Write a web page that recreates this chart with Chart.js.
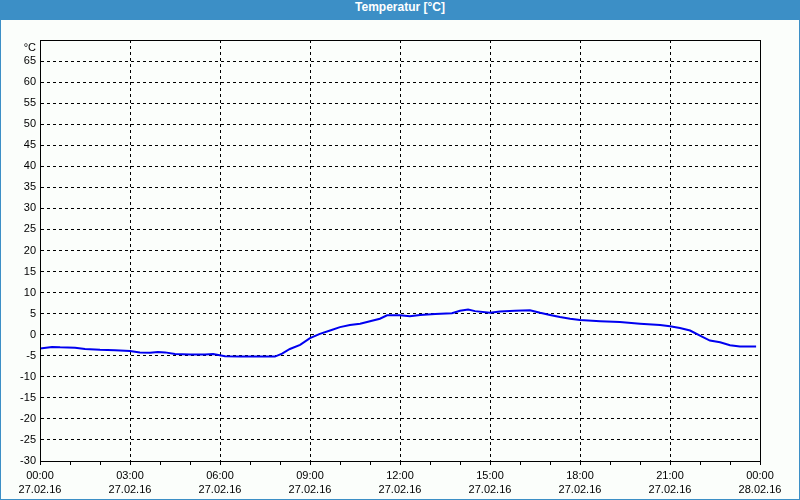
<!DOCTYPE html>
<html>
<head>
<meta charset="utf-8">
<script src="https://cdn.jsdelivr.net/npm/chart.js@4/dist/chart.umd.min.js"></script>
<style>
    body { margin: 0; }
    #wrap { position: relative; width: 800px; height: 500px; background: #3c8fc6; }
    #title { position: absolute; left: 0; top: 0; width: 800px; height: 20px; line-height: 20px;
             color: #fff; font: bold 12px 'Liberation Sans', sans-serif; text-align: center; }
    #box { position: absolute; left: 1px; top: 20px; width: 798px; height: 479px; background: #fbfefb; }
</style>
</head>
<body>
<div id="wrap">
    <div id="title">Temperatur [°C]</div>
    <div id="box"><canvas id="tempChart"></canvas></div>
</div>
<script>
// hours since 27.02.16 00:00
const hours = [0, 0.4, 0.67, 1.17, 1.5, 2, 2.5, 3, 3.33, 3.67, 3.93, 4.17, 4.5, 5, 5.5, 5.77,
    6.17, 6.67, 7.17, 7.83, 8.07, 8.33, 8.67, 9, 9.33, 9.67, 10, 10.33, 10.67, 11, 11.33, 11.57,
    12, 12.33, 12.67, 13.17, 13.73, 14, 14.27, 14.5, 15, 15.33, 15.83, 16.33, 16.67, 17, 17.33,
    17.67, 18, 18.67, 19.33, 20, 20.67, 21, 21.33, 21.67, 22, 22.33, 22.67, 23, 23.33, 23.87];
const temps = [-3.3, -2.9, -3.0, -3.1, -3.4, -3.6, -3.7, -3.9, -4.2, -4.3, -4.1, -4.2, -4.6, -4.7, -4.7, -4.6,
    -5.1, -5.2, -5.2, -5.2, -4.5, -3.4, -2.4, -0.8, 0.2, 1.0, 1.8, 2.3, 2.6, 3.2, 3.8, 4.6,
    4.6, 4.4, 4.7, 4.9, 5.1, 5.7, 6.0, 5.6, 5.2, 5.5, 5.7, 5.8, 5.2, 4.7, 4.2,
    3.8, 3.5, 3.2, 3.0, 2.6, 2.3, 2.0, 1.6, 1.0, -0.2, -1.4, -1.8, -2.5, -2.8, -2.8];
const timeLabels = ['00:00', '03:00', '06:00', '09:00', '12:00', '15:00', '18:00', '21:00', '00:00'];
const dateLabels = ['27.02.16', '27.02.16', '27.02.16', '27.02.16', '27.02.16', '27.02.16', '27.02.16', '27.02.16', '28.02.16'];

const tickFont = { family: "'Liberation Sans', sans-serif", size: 11, lineHeight: 1.36 };

// closes the plot box on top and right
const frame = {
    id: 'frame',
    afterDraw(chart) {
        const a = chart.chartArea, ctx = chart.ctx;
        const al = v => Math.round(v - 0.5) + 0.5;
        ctx.save();
        ctx.strokeStyle = '#000';
        ctx.lineWidth = 1;
        ctx.strokeRect(al(a.left), al(a.top), al(a.right) - al(a.left), al(a.bottom) - al(a.top));
        ctx.restore();
    }
};

const ctx = document.getElementById('tempChart').getContext('2d');
const chart = new Chart(ctx, {
    type: 'line',
    data: {
        datasets: [{
            label: 'Temperatur',
            data: hours.map((h, i) => ({ x: h, y: temps[i] })),
            borderColor: '#0000f0',
            borderWidth: 2,
            pointRadius: 0,
            tension: 0,
            fill: false
        }]
    },
    options: {
        responsive: true,
        maintainAspectRatio: false,
        animation: false,
        layout: { padding: { top: 20, right: 39, left: 0, bottom: 0 } },
        plugins: {
            legend: { display: false },
            tooltip: { enabled: false }
        },
        scales: {
            x: {
                type: 'linear',
                min: 0,
                max: 24,
                afterFit: function (scale) { scale.height = 38; },
                ticks: {
                    stepSize: 1,
                    autoSkip: false,
                    maxRotation: 0,
                    color: '#000',
                    font: tickFont,
                    padding: 3,
                    callback: function (value) {
                        if (value % 3 !== 0) return '';
                        const i = value / 3;
                        return [timeLabels[i], dateLabels[i]];
                    }
                },
                grid: {
                    color: c => (c.tick && c.tick.value % 3 === 0) ? '#000' : 'transparent',
                    tickColor: '#000',
                    tickLength: 4
                },
                border: { color: '#000', dash: [3, 3] }
            },
            y: {
                min: -30,
                max: 70,
                afterFit: function (scale) { scale.width = 39; },
                ticks: {
                    stepSize: 5,
                    autoSkip: false,
                    color: '#000',
                    font: tickFont,
                    padding: 4,
                    callback: function (value) {
                        // unit sits a bit below the top line
                        return value === 70 ? ['', '°C'] : value;
                    }
                },
                grid: {
                    color: '#000',
                    drawTicks: false
                },
                border: { color: '#000', dash: [3, 3] }
            }
        }
    },
    plugins: [frame]
});
</script>
</body>
</html>
